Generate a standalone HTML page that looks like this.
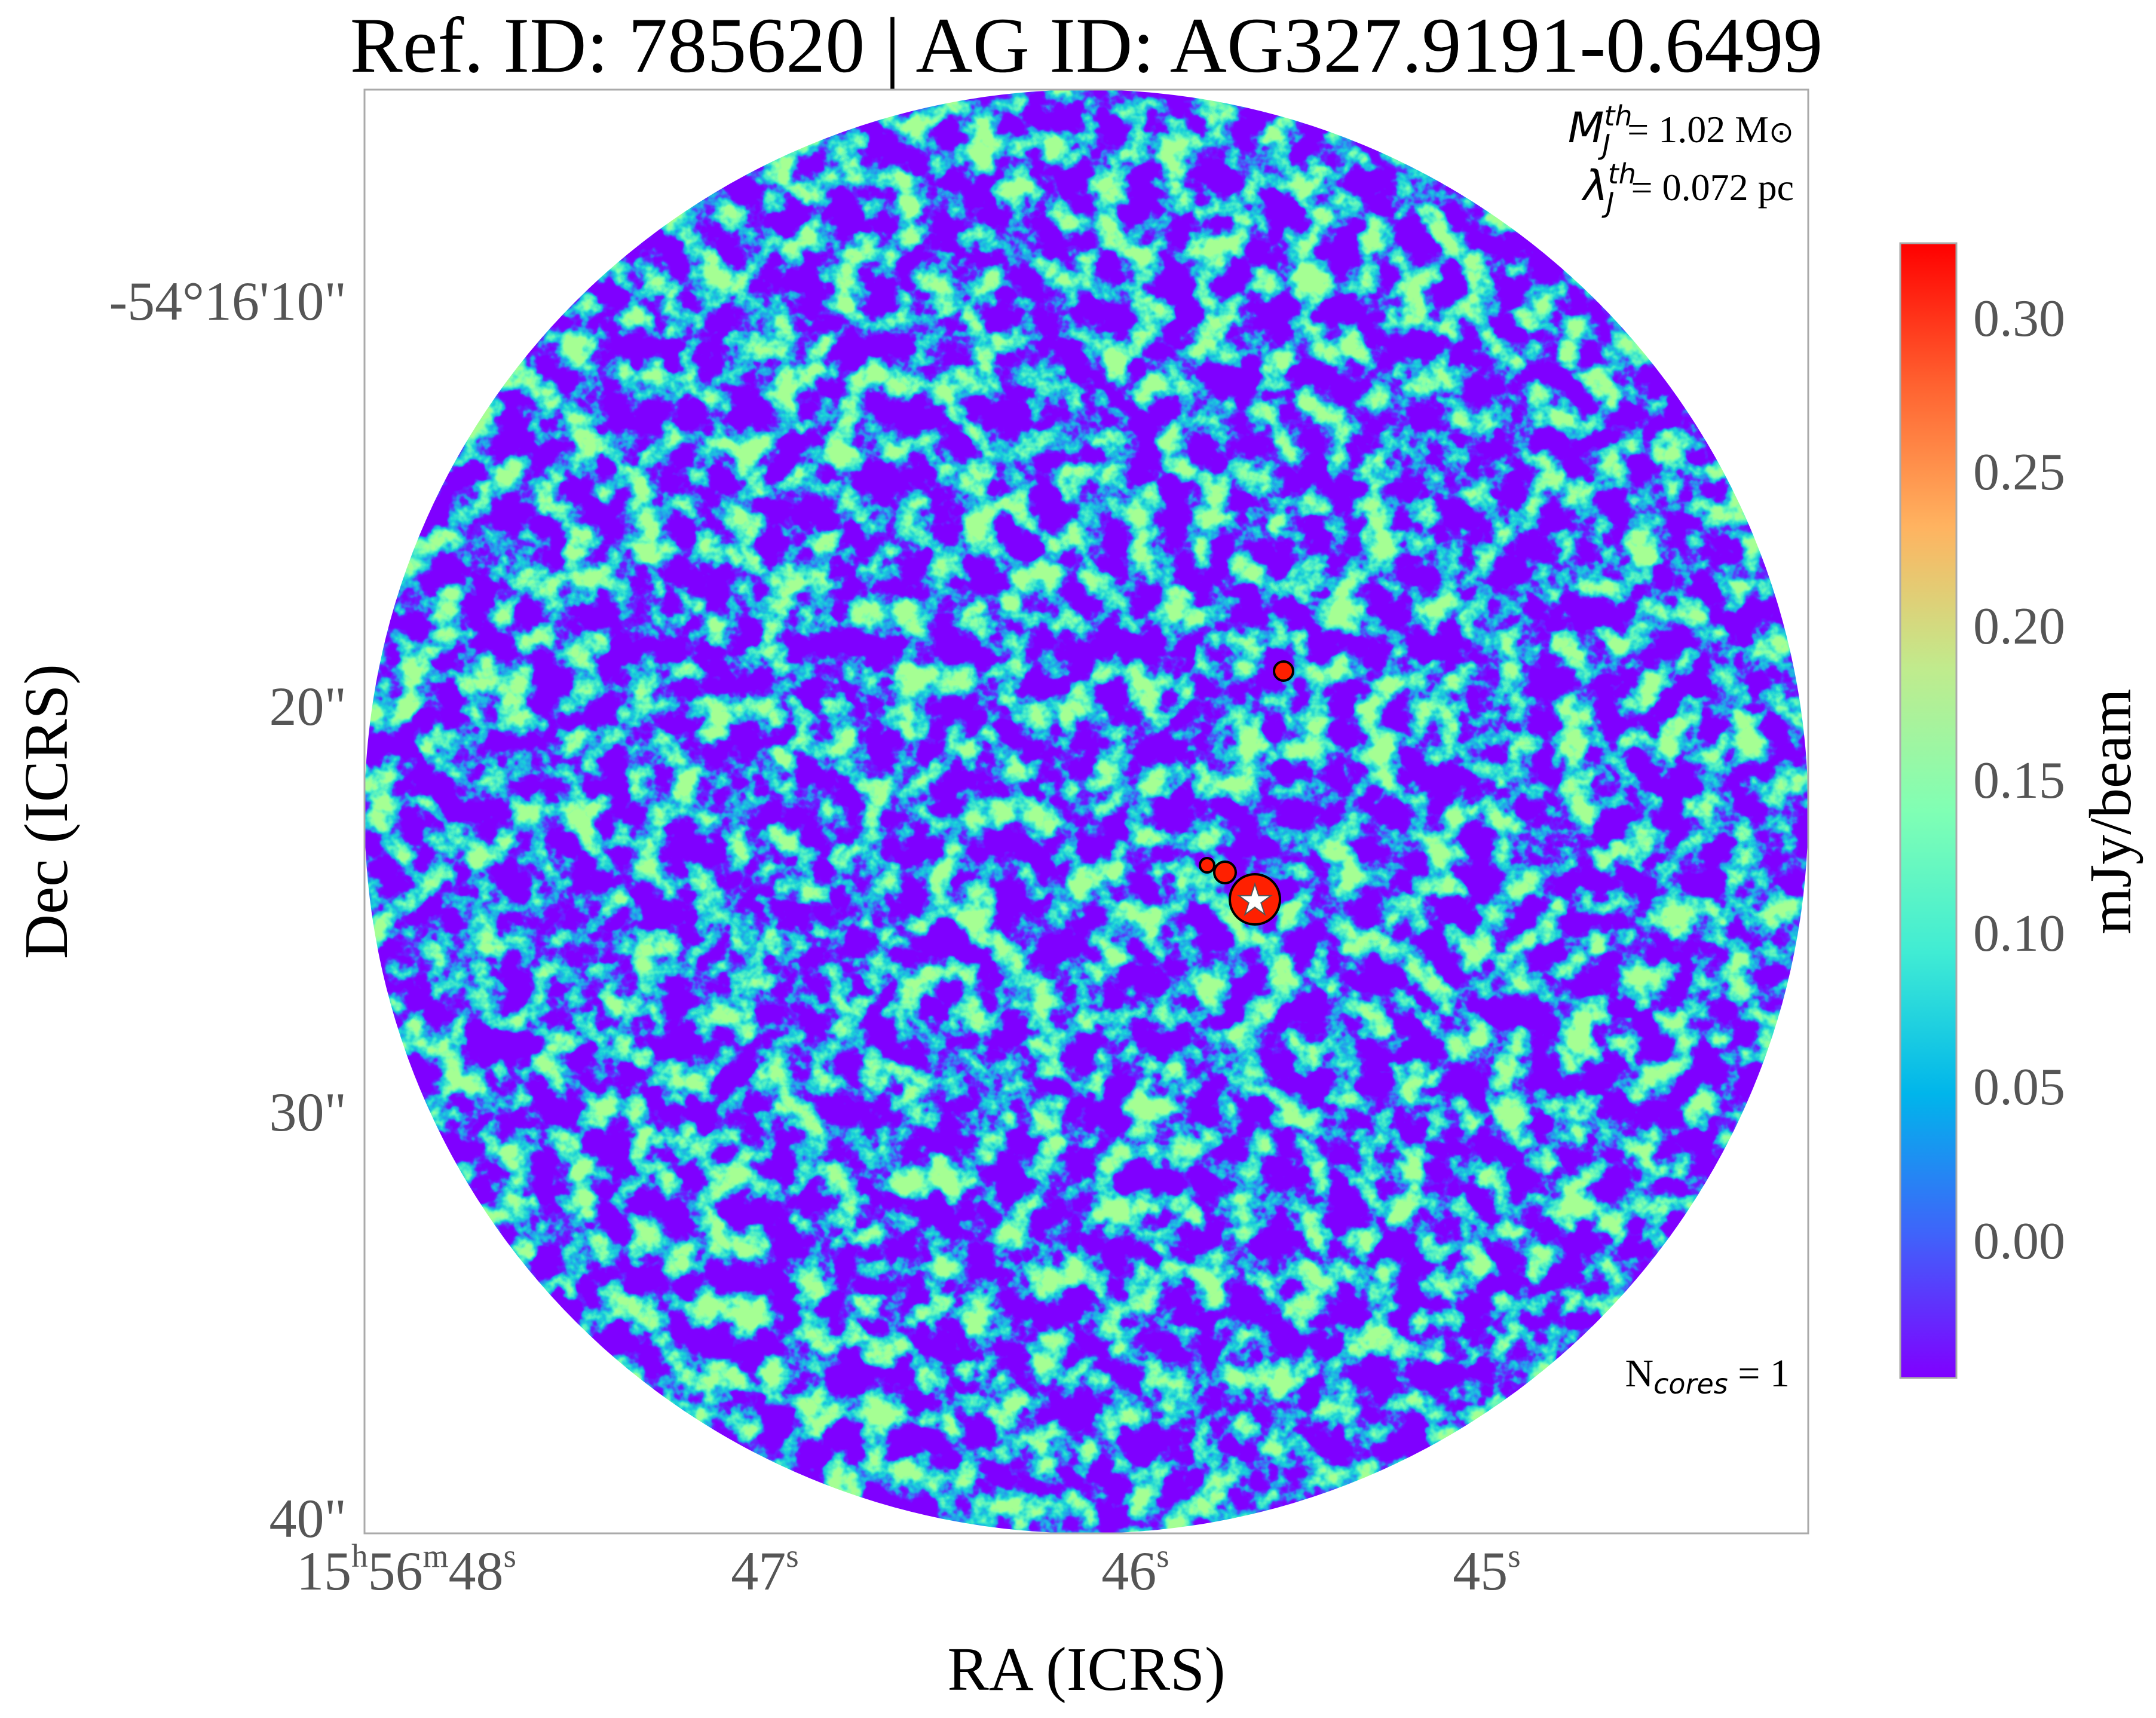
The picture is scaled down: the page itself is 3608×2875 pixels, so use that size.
<!DOCTYPE html>
<html><head><meta charset="utf-8"><style>html,body{margin:0;padding:0;background:#fff}svg{display:block}</style></head>
<body>
<svg width="3608" height="2875" viewBox="0 0 3608 2875" xmlns="http://www.w3.org/2000/svg" font-family="Liberation Serif, serif">
<defs>
<filter id="noise" x="0" y="0" width="100%" height="100%" filterUnits="userSpaceOnUse" color-interpolation-filters="sRGB">
<feTurbulence type="fractalNoise" baseFrequency="0.018" numOctaves="4" seed="7" result="n"/>
<feColorMatrix type="matrix" values="1 0 0 0 0  1 0 0 0 0  1 0 0 0 0  0 0 0 0 1" result="g"/>
<feComponentTransfer in="g" result="s">
<feFuncR type="linear" slope="2.6" intercept="-0.85"/>
<feFuncG type="linear" slope="2.6" intercept="-0.85"/>
<feFuncB type="linear" slope="2.6" intercept="-0.85"/>
</feComponentTransfer>
<feComponentTransfer in="s">
<feFuncR type="table" tableValues="0.5 0.5 0.5 0.4 0.15 0.1 0.3 0.5 0.65"/>
<feFuncG type="table" tableValues="0 0 0 0.15 0.6 0.82 0.93 1 1"/>
<feFuncB type="table" tableValues="1 1 1 1 0.93 0.85 0.78 0.68 0.58"/>
</feComponentTransfer>
</filter>
<clipPath id="disc"><circle cx="1818" cy="1358" r="1208"/></clipPath>
<linearGradient id="cb" x1="0" y1="1" x2="0" y2="0">
<stop offset="0" stop-color="#8000ff"/>
<stop offset="0.125" stop-color="#4062fa"/>
<stop offset="0.25" stop-color="#00b5eb"/>
<stop offset="0.375" stop-color="#40ecd4"/>
<stop offset="0.5" stop-color="#80ffb4"/>
<stop offset="0.625" stop-color="#c0eb8d"/>
<stop offset="0.75" stop-color="#ffb360"/>
<stop offset="0.875" stop-color="#ff6230"/>
<stop offset="1" stop-color="#ff0000"/>
</linearGradient>
</defs>
<text x="1818" y="120" font-size="132" text-anchor="middle" fill="#000">Ref. ID: 785620 | AG ID: AG327.9191-0.6499</text>
<g clip-path="url(#disc)">
<rect x="600" y="140" width="2440" height="2440" fill="#8000ff" filter="url(#noise)"/>
</g>
<g fill="#ff2000" stroke="#000" stroke-width="4">
<circle cx="2148" cy="1123" r="16"/>
<circle cx="2100" cy="1505" r="42"/>
<circle cx="2050" cy="1460" r="18"/>
<circle cx="2020" cy="1448" r="12"/>
</g>
<text x="2100" y="1530" font-size="70" text-anchor="middle" fill="#fff" stroke="#555" stroke-width="2">★</text>
<rect x="610" y="150" width="2416" height="2416" fill="none" stroke="#aaa" stroke-width="3"/>
<text x="3002" y="238" font-size="64" text-anchor="end"><tspan font-style="italic" font-family="DejaVu Sans, sans-serif" font-size="70">M</tspan><tspan font-style="italic" font-size="46" dy="-28" font-family="DejaVu Sans, sans-serif">th</tspan><tspan font-style="italic" font-size="46" dx="-50" dy="48" font-family="DejaVu Sans, sans-serif">J</tspan><tspan dx="28" dy="-20">= 1.02 M</tspan><tspan font-family="DejaVu Sans, sans-serif" font-size="50">⊙</tspan></text>
<text x="3002" y="335" font-size="64" text-anchor="end"><tspan font-style="italic" font-family="DejaVu Sans, sans-serif" font-size="70">λ</tspan><tspan font-style="italic" font-size="46" dy="-28" font-family="DejaVu Sans, sans-serif">th</tspan><tspan font-style="italic" font-size="46" dx="-50" dy="48" font-family="DejaVu Sans, sans-serif">J</tspan><tspan dx="28" dy="-20">= 0.072 pc</tspan></text>
<text x="2995" y="2320" font-size="66" text-anchor="end">N<tspan font-style="italic" font-size="46" dy="12" font-family="DejaVu Sans, sans-serif">cores</tspan><tspan dy="-12"> = 1</tspan></text>
<g font-size="92" fill="#555" text-anchor="end">
<text x="580" y="535">-54°16'10"</text>
<text x="580" y="1213">20"</text>
<text x="580" y="1892">30"</text>
<text x="580" y="2572">40"</text>
</g>
<g font-size="92" fill="#555" text-anchor="middle">
<text x="680" y="2660">15<tspan font-size="55" dy="-38">h</tspan><tspan dy="38">56</tspan><tspan font-size="55" dy="-38">m</tspan><tspan dy="38">48</tspan><tspan font-size="55" dy="-38">s</tspan></text>
<text x="1280" y="2660">47<tspan font-size="55" dy="-38">s</tspan></text>
<text x="1900" y="2660">46<tspan font-size="55" dy="-38">s</tspan></text>
<text x="2488" y="2660">45<tspan font-size="55" dy="-38">s</tspan></text>
</g>
<text x="1818" y="2828" font-size="104" text-anchor="middle">RA (ICRS)</text>
<text transform="translate(112,1358) rotate(-90)" font-size="104" text-anchor="middle">Dec (ICRS)</text>
<rect x="3180" y="407" width="94" height="1899" fill="url(#cb)" stroke="#aaa" stroke-width="3"/>
<g font-size="88" fill="#555">
<text x="3302" y="562">0.30</text>
<text x="3302" y="819">0.25</text>
<text x="3302" y="1077">0.20</text>
<text x="3302" y="1335">0.15</text>
<text x="3302" y="1591">0.10</text>
<text x="3302" y="1848">0.05</text>
<text x="3302" y="2106">0.00</text>
</g>
<text transform="translate(3565,1358) rotate(-90)" font-size="100" text-anchor="middle">mJy/beam</text>
</svg>
</body></html>
